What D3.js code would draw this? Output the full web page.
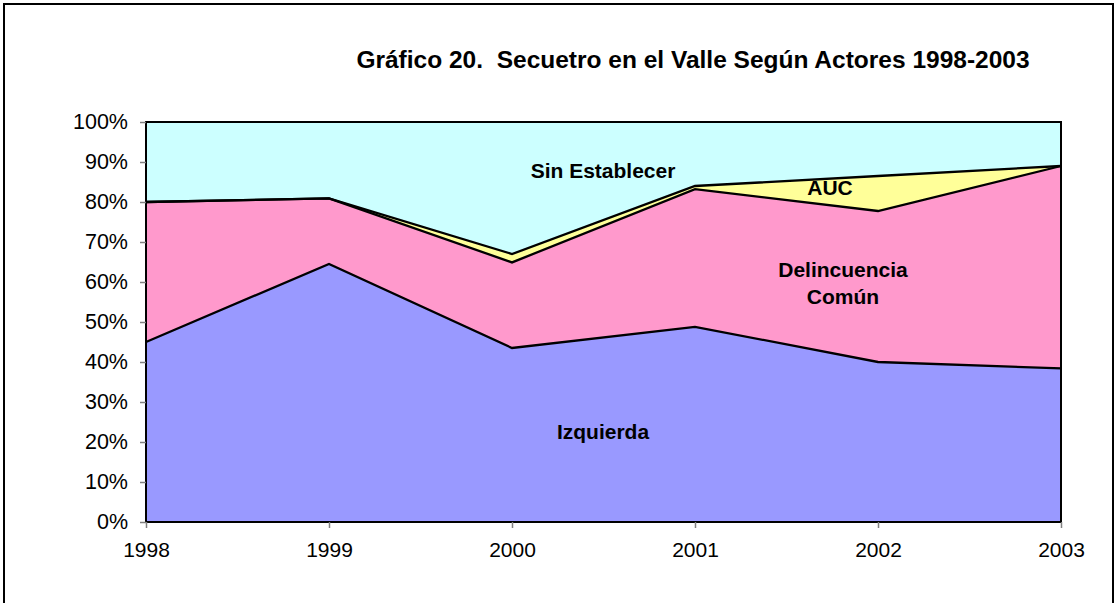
<!DOCTYPE html>
<html><head><meta charset="utf-8">
<script src="https://cdn.jsdelivr.net/npm/d3@7"></script>
<style>
html,body{margin:0;padding:0;background:#fff;}
text{font-family:Arial,"Liberation Sans",sans-serif;}
</style></head>
<body><svg id="c" width="1119" height="603"></svg>
<script>
const years = ["1998","1999","2000","2001","2002","2003"];
const izquierda = [45, 64.5, 43.5, 48.8, 40, 38.4];
const delincuencia = [35, 16.4, 21.4, 34.4, 37.75, 50.6];
const auc = [0, 0, 2.1, 0.8, 8.75, 0];
const sinEstablecer = [20, 19.1, 33, 16, 13.5, 11];
const seriesNames = ["Izquierda","Delincuencia Común","AUC","Sin Establecer"];
const seriesColors = ["#9999FF","#FF99CC","#FFFF99","#CCFFFF"];
const yTicks = [0,10,20,30,40,50,60,70,80,90,100];
const title = "Gráfico 20.  Secuetro en el Valle Según Actores 1998-2003";

const svg = d3.select("#c");
const m = {l:146, r:1061, t:122, b:522};

// outer frame
svg.append("rect").attr("x",4).attr("y",4).attr("width",1109).attr("height",640)
  .attr("fill","none").attr("stroke","#000").attr("stroke-width",2);

const table = years.map((y,i)=>({year:y, s0:izquierda[i], s1:delincuencia[i], s2:auc[i], s3:sinEstablecer[i]}));
const stack = d3.stack().keys(["s0","s1","s2","s3"]);
const layers = stack(table);

const x = d3.scalePoint().domain(years).range([m.l, m.r]);
const y = d3.scaleLinear().domain([0,100]).range([m.b, m.t]);

const area = d3.area().x(d=>x(d.data.year)).y0(d=>y(d[0])).y1(d=>y(d[1]));
const topLine = d3.line().x(d=>x(d.data.year)).y(d=>y(d[1]));

svg.append("g").selectAll("path").data(layers).join("path")
  .attr("d",area).attr("fill",(d,i)=>seriesColors[i]).attr("stroke","none");

svg.append("g").selectAll("path").data(layers.slice(0,3)).join("path")
  .attr("d",topLine).attr("fill","none").attr("stroke","#000").attr("stroke-width",2.3)
  .attr("stroke-linejoin","miter");

// plot frame
svg.append("rect").attr("x",m.l).attr("y",m.t).attr("width",m.r-m.l).attr("height",m.b-m.t)
  .attr("fill","none").attr("stroke","#000").attr("stroke-width",2);

// y axis
const yAxis = d3.axisLeft(y).tickValues(yTicks).tickFormat(d=>d+"%").tickSize(6).tickPadding(12);
const gy = svg.append("g").attr("transform",`translate(${m.l},0)`).call(yAxis);
gy.select(".domain").remove();
gy.selectAll("line").attr("stroke","#808080").attr("stroke-width",1.5);
gy.selectAll("text").attr("font-size",21.5).attr("fill","#000").attr("font-family","Arial,'Liberation Sans',sans-serif");

// x axis
const xAxis = d3.axisBottom(x).tickSize(6).tickPadding(14);
const gx = svg.append("g").attr("transform",`translate(0,${m.b})`).call(xAxis);
gx.select(".domain").remove();
gx.selectAll("line").attr("stroke","#808080").attr("stroke-width",1.5);
gx.selectAll("text").attr("font-size",21).attr("fill","#000").attr("font-family","Arial,'Liberation Sans',sans-serif");

// title
svg.append("text").attr("x",693).attr("y",68).attr("text-anchor","middle")
  .attr("font-size",24.5).attr("font-weight","bold").style("white-space","pre").text(title);

// series labels
const labels = [
  {t:["Izquierda"], x:603, y:439},
  {t:["Delincuencia","Común"], x:843, y:277},
  {t:["AUC"], x:830, y:195},
  {t:["Sin Establecer"], x:603, y:178}
];
labels.forEach(l=>{
  const tx = svg.append("text").attr("x",l.x).attr("y",l.y).attr("text-anchor","middle")
    .attr("font-size",21).attr("font-weight","bold");
  l.t.forEach((s,i)=>tx.append("tspan").attr("x",l.x).attr("dy",i?27:0).text(s));
});
</script></body></html>
